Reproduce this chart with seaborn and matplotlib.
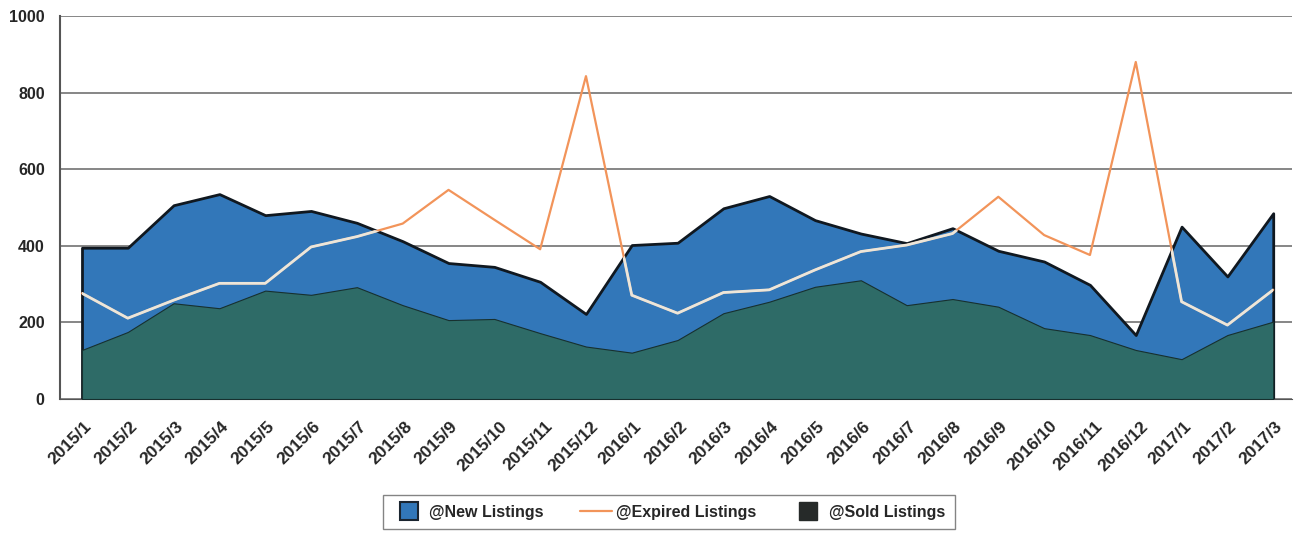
import numpy as np
import pandas as pd
import matplotlib
matplotlib.use("Agg")
import matplotlib.pyplot as plt
import matplotlib.transforms as mtransforms
from matplotlib.lines import Line2D
import seaborn as sns

sns.set_style("white")
plt.rcParams["font.family"] = ["Liberation Sans", "DejaVu Sans"]

# Monthly listing counts
months = ["2015/1", "2015/2", "2015/3", "2015/4", "2015/5", "2015/6", "2015/7",
          "2015/8", "2015/9", "2015/10", "2015/11", "2015/12", "2016/1", "2016/2",
          "2016/3", "2016/4", "2016/5", "2016/6", "2016/7", "2016/8", "2016/9",
          "2016/10", "2016/11", "2016/12", "2017/1", "2017/2", "2017/3"]
new_listings = [395, 395, 506, 535, 480, 491, 460, 412, 355, 345, 306, 222, 402, 408,
                498, 530, 467, 432, 407, 446, 387, 359, 298, 167, 450, 320, 485]
sold_listings = [128, 175, 250, 237, 283, 272, 292, 245, 206, 209, 172, 137, 121, 154,
                 224, 254, 293, 310, 245, 261, 241, 185, 167, 128, 104, 167, 202]
expired_listings = [276, 211, 258, 302, 302, 397, 424, 458, 546, 468, 391, 843, 271, 224,
                    278, 285, 337, 385, 402, 432, 528, 428, 376, 880, 254, 193, 285]
y_ticks = [0, 200, 400, 600, 800, 1000]

BLUE = "#3277b9"
TEAL = "#2e6b67"
ORANGE = "#f2945a"
CREAM = "#ece6da"

df = pd.DataFrame({"month": months, "pos": np.arange(len(months)),
                   "new": new_listings, "sold": sold_listings,
                   "expired": expired_listings})

W, H = 1296, 542
fig = plt.figure(figsize=(W / 100, H / 100), dpi=100)
ax = fig.add_axes([60 / W, 1 - 399 / H, (1292 - 60) / W, (399 - 16) / H])

# stacked look: new listings area behind, sold listings area in front
blue = ax.fill_between(df["pos"], df["new"], 0, facecolor=BLUE,
                       edgecolor="#101820", linewidth=2.0, zorder=2)
ax.fill_between(df["pos"], df["sold"], 0, facecolor=TEAL,
                edgecolor="#17302f", linewidth=0.8, zorder=3)

# expired line: orange over white, pale where it crosses the filled area
sns.lineplot(data=df, x="pos", y="expired", color=ORANGE, linewidth=1.6,
             ax=ax, zorder=4)
sns.lineplot(data=df, x="pos", y="expired", color=CREAM, linewidth=2.0,
             ax=ax, zorder=5)
ax.lines[-1].set_clip_path(blue.get_paths()[0], ax.transData)

ax.set_xlim(-0.48, 26.41)
ax.set_ylim(0, 1000)
ax.set_xlabel("")
ax.set_ylabel("")
ax.tick_params(axis="x", length=0, pad=14)
ax.tick_params(axis="y", length=0, pad=11)
ax.set_yticks(y_ticks)
ax.set_yticklabels([str(v) for v in y_ticks], fontsize=11.5, fontweight="bold")
ax.set_xticks(df["pos"])
ax.set_xticklabels(months, rotation=45, ha="center", fontsize=12.5, fontweight="bold")
# nudge the slanted labels a little to the left, as in the original
shift = mtransforms.ScaledTranslation(-12 / 100, 0, fig.dpi_scale_trans)
for lbl in ax.get_xticklabels():
    lbl.set_transform(lbl.get_transform() + shift)

ax.yaxis.grid(True, color="#7d7d7d", linewidth=1.3)
ax.set_axisbelow(True)
for side in ["top", "right"]:
    ax.spines[side].set_visible(False)
ax.spines["left"].set_color("#555555")
ax.spines["left"].set_linewidth(1.5)
ax.spines["bottom"].set_color("#555555")

handles = [
    Line2D([], [], marker="s", linestyle="none", markersize=13,
           markerfacecolor=BLUE, markeredgecolor="#1b2530", markeredgewidth=1.5),
    Line2D([], [], color=ORANGE, linewidth=1.6),
    Line2D([], [], marker="s", linestyle="none", markersize=13,
           markerfacecolor="#262a29", markeredgecolor="#262a29"),
]
labels = ["@New Listings", "@Expired Listings", "@Sold Listings"]
leg = fig.legend(handles, labels, loc="upper left",
                 bbox_to_anchor=(383 / W, 1 - 495 / H - 0.05, (955 - 383) / W, 0.05),
                 mode="expand", ncol=3, frameon=True, fancybox=False,
                 edgecolor="#666666", prop=dict(size=11.5, weight="bold"),
                 handlelength=2, handletextpad=0.3, borderpad=0.6, borderaxespad=0)
leg.get_frame().set_linewidth(1.0)

fig.savefig("out.png", dpi=100)
